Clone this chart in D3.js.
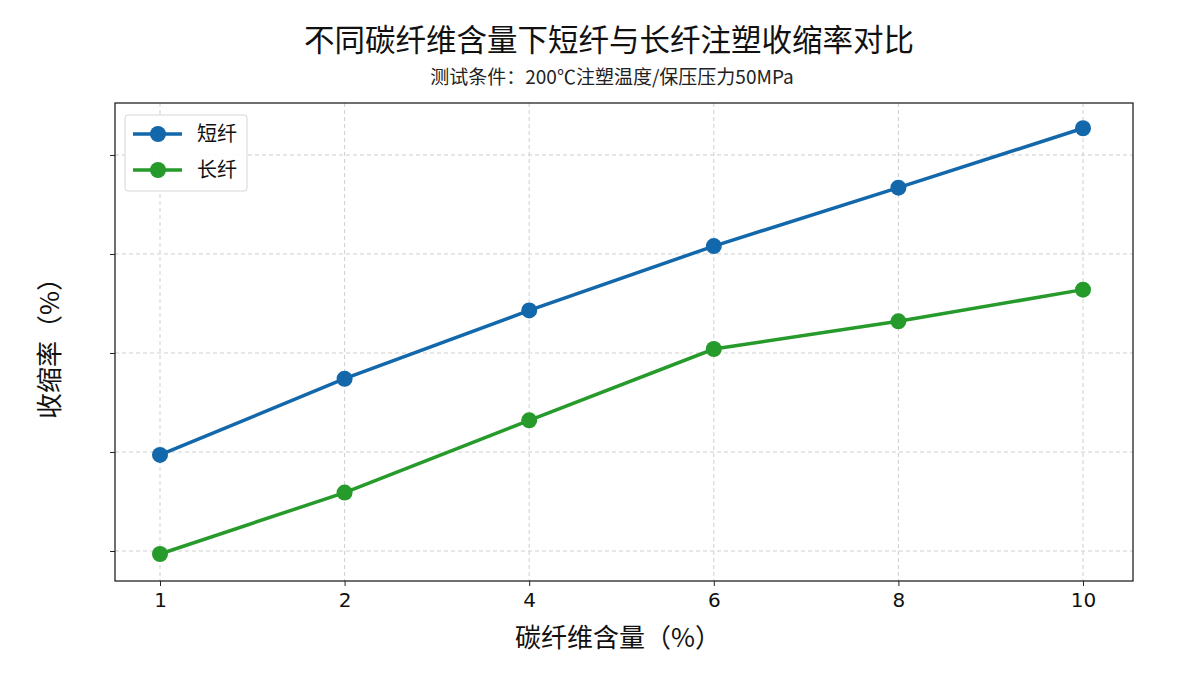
<!DOCTYPE html>
<html>
<head>
<meta charset="utf-8">
<script src="https://cdn.jsdelivr.net/npm/d3@7"></script>
<style>
  body { margin: 0; background: #fff; }
  svg { display: block; }
</style>
</head>
<body>
<div id="chart"></div>
<script>
// data (y axis has no labels; values are relative shrinkage)
const fiberContent = ["1", "2", "4", "6", "8", "10"];
const shortFiber = [0.297, 0.374, 0.443, 0.508, 0.567, 0.627];
const longFiber = [0.197, 0.259, 0.332, 0.404, 0.432, 0.464];
const yGridValues = [0.2, 0.3, 0.4, 0.5, 0.6];
const seriesNames = ["短纤", "长纤"];
const seriesColors = ["#1268ab", "#269a2a"];

const W = 1200, H = 675;
const margin = { top: 103, right: 67, bottom: 94, left: 115 };
const width = W - margin.left - margin.right;
const height = H - margin.top - margin.bottom;
const cjk = "'Noto Sans CJK SC', 'Noto Sans', sans-serif";

const svg = d3.select("#chart").append("svg")
    .attr("width", W)
    .attr("height", H);

svg.append("rect").attr("width", W).attr("height", H).attr("fill", "#fff");

const g = svg.append("g").attr("transform", `translate(${margin.left},${margin.top})`);

const x = d3.scalePoint()
    .domain(fiberContent)
    .range([45, width - 50]);

const y = d3.scaleLinear()
    .domain([0.1697, 0.6525])
    .range([height, 0]);

// grid
g.append("g").selectAll("line")
    .data(fiberContent)
    .enter().append("line")
    .attr("x1", d => x(d)).attr("x2", d => x(d))
    .attr("y1", 0).attr("y2", height)
    .attr("stroke", "#cfcfcf")
    .attr("stroke-width", 1)
    .attr("stroke-dasharray", "4,3");

g.append("g").selectAll("line")
    .data(yGridValues)
    .enter().append("line")
    .attr("x1", 0).attr("x2", width)
    .attr("y1", d => y(d)).attr("y2", d => y(d))
    .attr("stroke", "#cfcfcf")
    .attr("stroke-width", 1)
    .attr("stroke-dasharray", "4,3");

// axes
const xAxis = g.append("g")
    .attr("transform", `translate(0,${height})`)
    .call(d3.axisBottom(x).tickSize(5).tickPadding(7));
xAxis.select(".domain").remove();
xAxis.selectAll("text")
    .attr("font-family", "'DejaVu Sans', sans-serif")
    .attr("font-size", 20)
    .attr("fill", "#111");
xAxis.selectAll("line").attr("stroke", "#222");

const yAxis = g.append("g")
    .call(d3.axisLeft(y).tickValues(yGridValues).tickSize(5).tickFormat(""));
yAxis.select(".domain").remove();
yAxis.selectAll("line").attr("stroke", "#222");

// frame
g.append("rect")
    .attr("width", width).attr("height", height)
    .attr("fill", "none")
    .attr("stroke", "#222")
    .attr("stroke-width", 1.3);

// lines
const allSeries = [shortFiber, longFiber];
const line = d3.line()
    .x((d, i) => x(fiberContent[i]))
    .y(d => y(d));

allSeries.forEach((vals, si) => {
    g.append("path")
        .datum(vals)
        .attr("fill", "none")
        .attr("stroke", seriesColors[si])
        .attr("stroke-width", 3.5)
        .attr("d", line);
    g.append("g").selectAll("circle")
        .data(vals)
        .enter().append("circle")
        .attr("cx", (d, i) => x(fiberContent[i]))
        .attr("cy", d => y(d))
        .attr("r", 8)
        .attr("fill", seriesColors[si]);
});

// legend
const legend = g.append("g").attr("transform", "translate(10,12)");
legend.append("rect")
    .attr("width", 122).attr("height", 76)
    .attr("rx", 3)
    .attr("fill", "#fff")
    .attr("fill-opacity", 0.9)
    .attr("stroke", "#d6d6d6");
seriesNames.forEach((name, i) => {
    const row = legend.append("g").attr("transform", `translate(0,${19 + i * 36})`);
    row.append("line")
        .attr("x1", 8).attr("x2", 57)
        .attr("stroke", seriesColors[i])
        .attr("stroke-width", 3.5);
    row.append("circle")
        .attr("cx", 33).attr("r", 8)
        .attr("fill", seriesColors[i]);
    row.append("text")
        .attr("x", 72).attr("y", 7)
        .attr("font-family", cjk)
        .attr("font-size", 20)
        .attr("fill", "#111")
        .text(name);
});

// titles
svg.append("text")
    .attr("x", 609).attr("y", 51)
    .attr("text-anchor", "middle")
    .attr("font-family", cjk)
    .attr("font-size", 30.5)
    .attr("fill", "#111")
    .text("不同碳纤维含量下短纤与长纤注塑收缩率对比");

svg.append("text")
    .attr("x", 612).attr("y", 84)
    .attr("text-anchor", "middle")
    .attr("font-family", cjk)
    .attr("font-size", 19)
    .attr("fill", "#222")
    .text("测试条件：200℃注塑温度/保压压力50MPa");

svg.append("text")
    .attr("x", 618).attr("y", 647)
    .attr("text-anchor", "middle")
    .attr("font-family", cjk)
    .attr("font-size", 26)
    .attr("fill", "#111")
    .text("碳纤维含量（%）");

svg.append("text")
    .attr("transform", "translate(59,342) rotate(-90)")
    .attr("text-anchor", "middle")
    .attr("font-family", cjk)
    .attr("font-size", 26)
    .attr("fill", "#111")
    .text("收缩率（%）");
</script>
</body>
</html>
